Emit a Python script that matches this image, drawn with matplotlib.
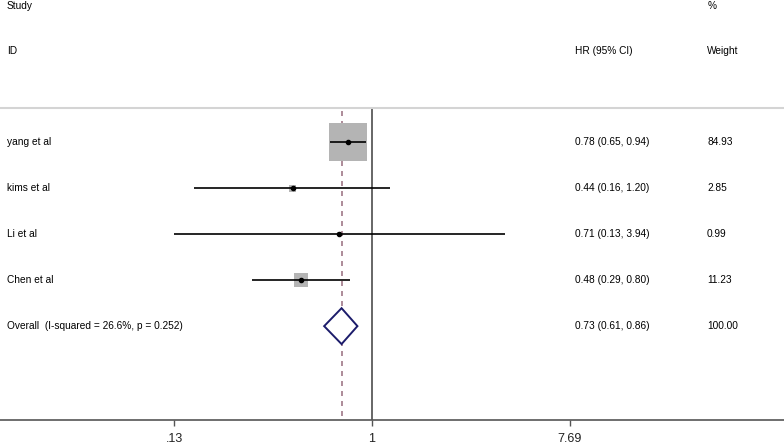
import numpy as np
import matplotlib
matplotlib.use("Agg")
import matplotlib.pyplot as plt
from matplotlib.patches import Polygon
from matplotlib.transforms import blended_transform_factory

plt.rcParams['font.family'] = ['Liberation Sans', 'DejaVu Sans']

# study data
studies = ["yang et al", "kims et al", "Li et al", "Chen et al"]
hr = [0.78, 0.44, 0.71, 0.48]
lo = [0.65, 0.16, 0.13, 0.29]
hi = [0.94, 1.20, 3.94, 0.80]
weights = [84.93, 2.85, 0.99, 11.23]

# pooled estimate
overall_label = "Overall  (I-squared = 26.6%, p = 0.252)"
overall_hr, overall_lo, overall_hi = 0.73, 0.61, 0.86

tick_vals = [0.13, 1, 7.69]
tick_labels = [".13", "1", "7.69"]

W, H = 784, 444
fig = plt.figure(figsize=(W / 100, H / 100), dpi=100)
# axes spans full width, from header rule (y=108) down to axis line (y=420)
ax = fig.add_axes([0, (H - 420) / H, 1, (420 - 108) / H])
ax.set_xscale('log')
ax.set_xlim(0.0215, 70.2)
ax.set_ylim(6.04, -0.74)

for s in ['left', 'right']:
    ax.spines[s].set_visible(False)
ax.spines['top'].set_color('#d4d4d4')
ax.spines['top'].set_linewidth(1.5)
ax.spines['bottom'].set_color('#555555')
ax.spines['bottom'].set_linewidth(1.2)
ax.set_yticks([])
ax.set_xticks(tick_vals)
ax.set_xticklabels(tick_labels, fontsize=9, color='#222222')
ax.minorticks_off()
ax.tick_params(axis='x', length=4, width=1, color='#555555', pad=5)

# null line and pooled estimate line
ax.axvline(1, color='#666666', lw=1.4, zorder=1)
ax.plot([overall_hr, overall_hr], [-0.68, 6.04], color='#a07888', lw=1.2,
        ls=(0, (3, 3)), zorder=1)

ypos = np.arange(len(studies))
sizes = [750 * w / max(weights) for w in weights]
ax.scatter(hr, ypos, s=sizes, marker='s', color='#b4b4b4', zorder=2,
           linewidths=0)
ax.hlines(ypos, lo, hi, color='black', lw=1.2, zorder=3)
ax.plot(hr, ypos, 'o', color='black', ms=3, zorder=4)

yo = len(studies)
h = 0.39
diamond = Polygon([(overall_lo, yo), (overall_hr, yo - h),
                   (overall_hi, yo), (overall_hr, yo + h)],
                  closed=True, facecolor='white', edgecolor='#1c1c6b',
                  lw=1.4, zorder=3)
ax.add_patch(diamond)

# text columns
tr = blended_transform_factory(fig.transFigure, ax.transData)
fs = 7.3
labels = studies + [overall_label]
ci_text = ["%.2f (%.2f, %.2f)" % (a, b, c) for a, b, c in zip(hr, lo, hi)]
ci_text.append("%.2f (%.2f, %.2f)" % (overall_hr, overall_lo, overall_hi))
wt_text = ["%.2f" % w for w in weights] + ["100.00"]
for i in range(len(labels)):
    ax.text(7 / W, i, labels[i], transform=tr, fontsize=fs, va='center')
    ax.text(575 / W, i, ci_text[i], transform=tr, fontsize=fs, va='center')
    ax.text(707 / W, i, wt_text[i], transform=tr, fontsize=fs, va='center')

fig.text(7 / W, 1 - 6 / H, "Study", fontsize=fs, va='center')
fig.text(7 / W, 1 - 51 / H, "ID", fontsize=fs, va='center')
fig.text(575 / W, 1 - 51 / H, "HR (95% CI)", fontsize=fs, va='center')
fig.text(708 / W, 1 - 6 / H, "%", fontsize=fs, va='center')
fig.text(707 / W, 1 - 51 / H, "Weight", fontsize=fs, va='center')

fig.savefig("out.png", dpi=100)
